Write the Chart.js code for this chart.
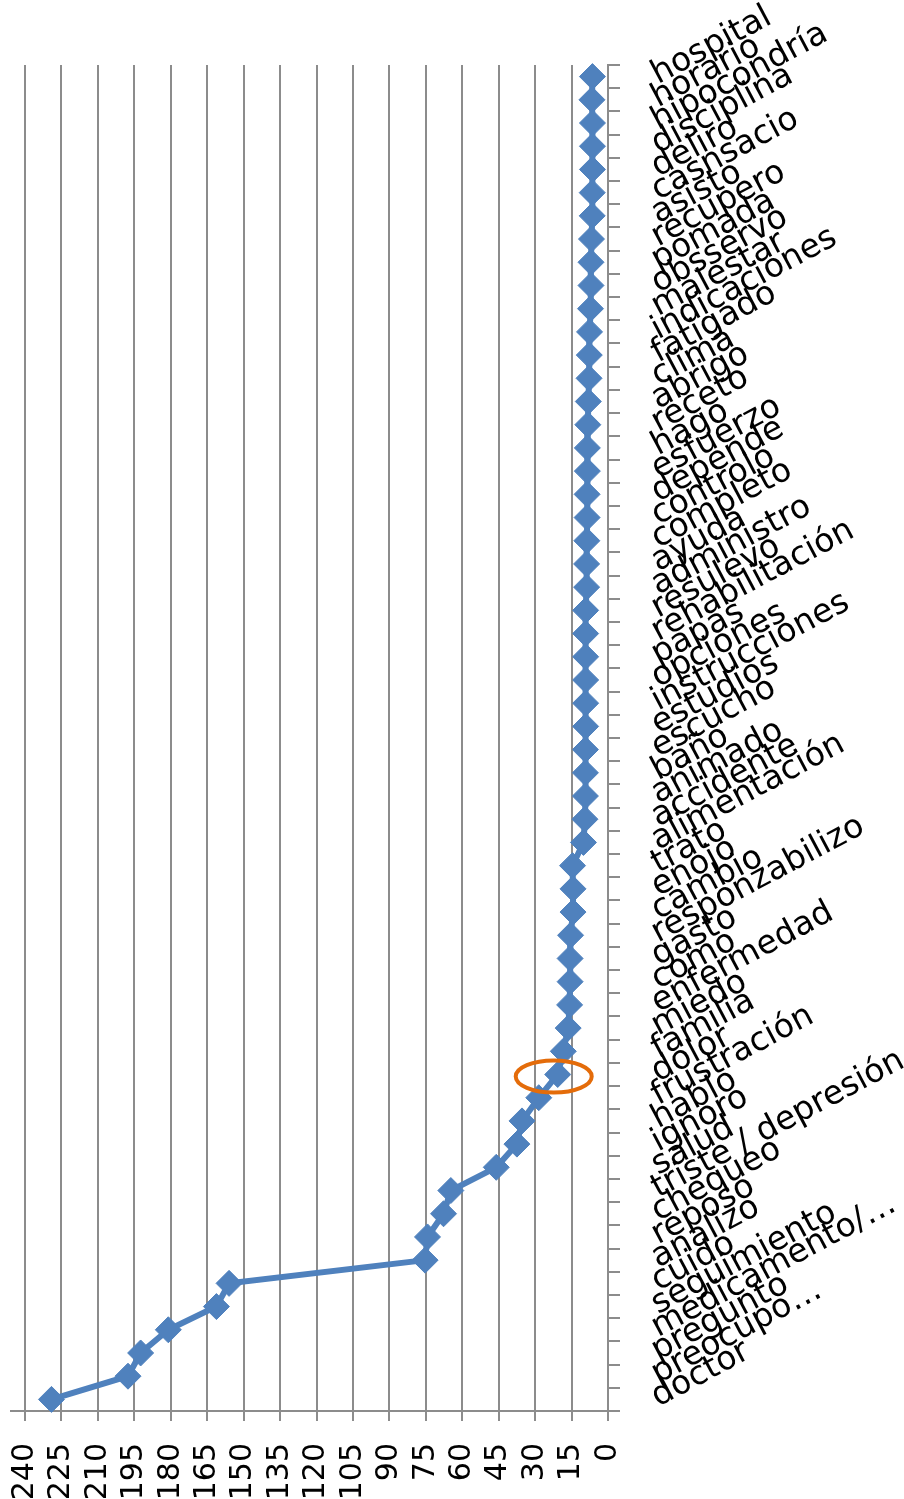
<!DOCTYPE html>
<html lang="es">
<head>
  <meta charset="UTF-8">
  <script src="https://cdn.jsdelivr.net/npm/chart.js"></script>
  <title>Grafico</title>
  <style>
    body { margin: 0; background: #fff; }
  </style>
</head>
<body>
  <canvas id="grafico" width="904" height="1499"></canvas>

<script>
  // categorias de arriba hacia abajo
  const categorias = ['hospital', 'horario', 'hipocondría', 'disciplina', 'deliro', 'casnsacio', 'asisto',
    'recupero', 'pomada', 'obsservo', 'malestar', 'indicaciones', 'fatigado', 'clima', 'abrigo', 'receto',
    'hago', 'esfuerzo', 'depende', 'controlo', 'completo', 'ayuda', 'administro', 'resulevo',
    'rehabilitación', 'papas', 'opciones', 'instrucciones', 'estudios', 'escucho', 'baño', 'animado',
    'accidente', 'alimentación', 'trato', 'enojo', 'cambio', 'responzabilizo', 'gasto', 'como',
    'enfermedad', 'miedo', 'familia', 'dolor', 'frustración', 'hablo', 'ignoro', 'salud',
    'triste / depresión', 'chequeo', 'reposo', 'analizo', 'cuido', 'seguimiento', 'medicamento/…',
    'pregunto', 'preocupo…', 'doctor'];

  const valores = [6.4, 6.6, 6.4, 6.4, 6.4, 6.5, 6.5,
    6.8, 7.0, 7.0, 7.2, 7.6, 7.7, 7.8, 8.1, 8.3,
    8.5, 8.5, 8.6, 8.6, 8.7, 8.8, 8.8, 9.2,
    9.2, 9.2, 9.2, 9.2, 9.2, 9.3, 9.3, 9.3,
    9.5, 10.1, 14.6, 14.4, 14.4, 15.4, 15.6, 15.6,
    15.8, 16.4, 18.4, 20.7, 28.5, 35.4, 37.5, 46,
    64.7, 67.7, 74.3, 75.3, 156, 161.2, 181,
    192.4, 197.6, 229.1];

  const valorMin = 0;
  const valorMax = 240;
  const pasoValor = 15;

  // punto que va marcado con el ovalo naranja
  const categoriaMarcada = 'dolor';

  const ovalo = {
    id: 'ovalo',
    afterDatasetsDraw(chart) {
      const idx = categorias.indexOf(categoriaMarcada);
      const punto = chart.getDatasetMeta(0).data[idx];
      const ctx = chart.ctx;
      ctx.save();
      ctx.strokeStyle = '#E46C0A';
      ctx.lineWidth = 4;
      ctx.beginPath();
      ctx.ellipse(punto.x - 4, punto.y + 2, 38, 16, 0, 0, Math.PI * 2);
      ctx.stroke();
      ctx.restore();
    }
  };

  // la linea del eje de abajo sobresale un poco a la izquierda
  const ejeExtra = {
    id: 'ejeExtra',
    afterDraw(chart) {
      const area = chart.chartArea;
      const ctx = chart.ctx;
      ctx.save();
      ctx.strokeStyle = '#8c8c8c';
      ctx.lineWidth = 2;
      ctx.beginPath();
      ctx.moveTo(10, area.bottom);
      ctx.lineTo(area.left, area.bottom);
      ctx.stroke();
      ctx.restore();
    }
  };

  const ctx = document.getElementById('grafico');

  new Chart(ctx, {
    type: 'line',
    data: {
      labels: categorias,
      datasets: [{
        label: 'frecuencia',
        data: valores,
        borderColor: '#4F81BD',
        backgroundColor: '#4F81BD',
        borderWidth: 6,
        pointStyle: 'rectRot',
        pointRadius: 13,
        pointBorderWidth: 1,
        tension: 0
      }]
    },
    options: {
      indexAxis: 'y',
      responsive: false,
      animation: false,
      layout: {
        padding: { top: 65, left: 25, right: 0, bottom: 0 }
      },
      plugins: {
        legend: { display: false },
        tooltip: { enabled: false }
      },
      scales: {
        x: {
          type: 'linear',
          position: 'bottom',
          reverse: true,
          min: valorMin,
          max: valorMax,
          afterFit: function (scale) { scale.height = 88; },
          ticks: {
            stepSize: pasoValor,
            autoSkip: false,
            minRotation: 90,
            maxRotation: 90,
            padding: 22,
            color: '#000',
            font: { family: 'DejaVu Sans', size: 30 }
          },
          grid: {
            color: '#8c8c8c',
            lineWidth: 2,
            tickLength: 10
          },
          border: { color: '#8c8c8c', width: 2 }
        },
        y: {
          type: 'category',
          position: 'right',
          offset: true,
          afterFit: function (scale) { scale.width = 296; },
          ticks: {
            autoSkip: false,
            minRotation: 28,
            maxRotation: 28,
            padding: 34,
            color: '#000',
            font: { family: 'DejaVu Sans', size: 33 }
          },
          grid: {
            offset: true,
            drawOnChartArea: false,
            color: '#8c8c8c',
            lineWidth: 2,
            tickLength: 12
          },
          border: { color: '#8c8c8c', width: 2 }
        }
      }
    },
    plugins: [ovalo, ejeExtra]
  });
</script>
</body>
</html>
